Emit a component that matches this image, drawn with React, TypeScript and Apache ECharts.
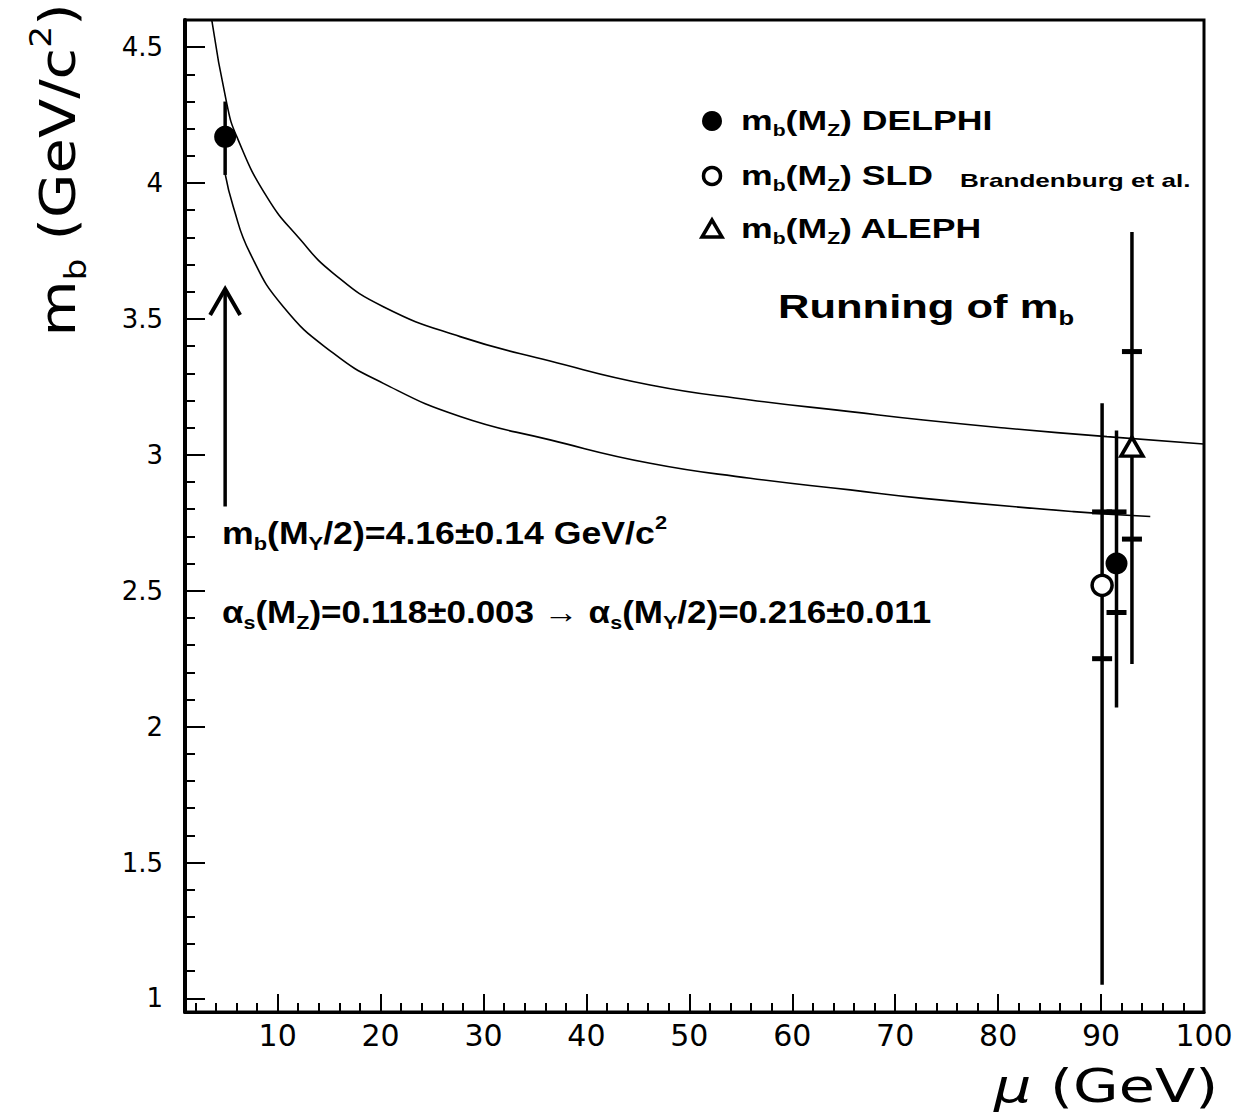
import React, { useEffect, useRef } from 'react';
import * as echarts from 'echarts';

// ---- data ----
const upperX = [3.6, 5.05, 6.03, 8.94, 12.18, 15.41, 20.27, 27.73, 36.47, 46.19, 55.91, 65.63, 72.75, 80.86, 90.57, 99.96];
const upperY = [4.6, 4.294, 4.171, 3.95, 3.793, 3.668, 3.545, 3.435, 3.345, 3.257, 3.202, 3.159, 3.128, 3.098, 3.067, 3.04];
const lowerX = [4.89, 5.69, 7.32, 10.55, 15.41, 20.27, 27.73, 36.47, 46.19, 55.91, 65.63, 72.75, 87.33, 94.78];
const lowerY = [4.036, 3.913, 3.742, 3.545, 3.374, 3.263, 3.141, 3.055, 2.969, 2.914, 2.871, 2.84, 2.791, 2.773];

const delphiPts = [[4.9, 4.17], [91.5, 2.6]];
const sldPts = [[90.1, 2.52]];
const alephPts = [[93.0, 3.03]];
// total error bars: [x, low, high]
const totalErr = [[4.9, 4.03, 4.3], [90.1, 1.05, 3.19], [91.5, 2.07, 3.09], [93.0, 2.23, 3.82]];
// inner (statistical) error ends: [x, y]
const statEnds = [[90.1, 2.25], [90.1, 2.79], [91.5, 2.42], [91.5, 2.79], [93.0, 2.69], [93.0, 3.38]];
// arrow: [x, from, to]
const arrowData = [[4.9, 2.81, 3.61]];

const xTickLabels = [10, 20, 30, 40, 50, 60, 70, 80, 90, 100];
const yTickLabels = [1, 1.5, 2, 2.5, 3, 3.5, 4, 4.5];
const xMinor: number[] = [];
for (let v = 2; v < 100; v += 2) if (v % 10 !== 0) xMinor.push(v);
const yMinor: number[] = [];
for (let k = 10; k <= 46; k++) if (k % 5 !== 0) yMinor.push(k / 10);

const zip = (a: number[], b: number[]) => a.map((v, i) => [v, b[i]]);

function richSet(F: number, family: string, weight: string) {
  const lh = Math.round(F * 1.3);
  const sF = Math.round(F * 0.6);
  return {
    n: { fontSize: F, fontFamily: family, fontWeight: weight, lineHeight: lh, verticalAlign: 'middle', fill: '#000', color: '#000' },
    s: { fontSize: sF, fontFamily: family, fontWeight: weight, lineHeight: sF, verticalAlign: 'bottom', fill: '#000', color: '#000' },
    p: { fontSize: sF, fontFamily: family, fontWeight: weight, lineHeight: sF, verticalAlign: 'top', fill: '#000', color: '#000' },
    i: { fontSize: F, fontFamily: family, fontWeight: weight, fontStyle: 'italic', lineHeight: lh, verticalAlign: 'middle', fill: '#000', color: '#000' },
  };
}

function txt(x: number, y: number, text: string, F: number, o: any = {}) {
  const fam = o.fam || 'Liberation Sans';
  const weight = o.weight || 'bold';
  const align = o.align || 'left';
  return {
    type: 'text',
    x, y,
    scaleX: o.sx || 1,
    rotation: o.rot || 0,
    z: 100,
    style: {
      text,
      rich: richSet(F, fam, weight),
      fill: '#000',
      fontSize: F,
      fontFamily: fam,
      fontWeight: weight,
      align, textAlign: align,
      verticalAlign: 'middle', textVerticalAlign: 'middle',
    },
  };
}

const BOLD = 'Liberation Sans';
const GOTH = 'DejaVu Sans';

export default function App() {
  const ref = useRef<HTMLDivElement>(null);
  useEffect(() => {
    const chart = echarts.init(ref.current!, null, { renderer: 'svg' });
    const option: any = {
      animation: false,
      backgroundColor: '#fff',
      grid: { left: 185, right: 37, top: 20, bottom: 106, show: true, borderColor: '#000', borderWidth: 3, backgroundColor: 'transparent' },
      xAxis: [
        {
          type: 'value', min: 1, max: 100, position: 'bottom',
          axisLine: { show: true, lineStyle: { color: '#000', width: 3 } },
          axisTick: { show: true, inside: true, length: 18, customValues: xTickLabels, lineStyle: { color: '#000', width: 2 } },
          axisLabel: { show: true, customValues: xTickLabels, fontSize: 30, fontFamily: GOTH, color: '#000', margin: 8 },
          splitLine: { show: false },
        },
        {
          type: 'value', min: 1, max: 100, position: 'bottom',
          axisLine: { show: false },
          axisTick: { show: true, inside: true, length: 9, customValues: xMinor, lineStyle: { color: '#000', width: 2 } },
          axisLabel: { show: false },
          splitLine: { show: false },
        },
      ],
      yAxis: [
        {
          type: 'value', min: 0.95, max: 4.6, position: 'left',
          axisLine: { show: true, lineStyle: { color: '#000', width: 4 } },
          axisTick: { show: true, inside: true, length: 20, customValues: yTickLabels, lineStyle: { color: '#000', width: 2 } },
          axisLabel: { show: true, customValues: yTickLabels, fontSize: 26, fontFamily: GOTH, color: '#000', margin: 22, formatter: (v: number) => String(v) },
          splitLine: { show: false },
        },
        {
          type: 'value', min: 0.95, max: 4.6, position: 'left',
          axisLine: { show: false },
          axisTick: { show: true, inside: true, length: 10, customValues: yMinor, lineStyle: { color: '#000', width: 2 } },
          axisLabel: { show: false },
          splitLine: { show: false },
        },
      ],
      series: [
        {
          name: 'upper', type: 'line', data: zip(upperX, upperY), showSymbol: false, symbol: 'none',
          smooth: 0.5, lineStyle: { color: '#000', width: 1.6 }, clip: true,
        },
        {
          name: 'lower', type: 'line', data: zip(lowerX, lowerY), showSymbol: false, symbol: 'none',
          smooth: 0.5, lineStyle: { color: '#000', width: 1.6 }, clip: true,
        },
        {
          name: 'totalErr', type: 'custom', data: totalErr, encode: { x: 0, y: [1, 2] },
          renderItem: (params: any, api: any) => {
            const x = api.value(0);
            const a = api.coord([x, api.value(1)]);
            const b = api.coord([x, api.value(2)]);
            return { type: 'line', shape: { x1: a[0], y1: a[1], x2: b[0], y2: b[1] }, style: { stroke: '#000', lineWidth: 3.5 } };
          },
        },
        {
          name: 'statErr', type: 'custom', data: statEnds, encode: { x: 0, y: 1 },
          renderItem: (params: any, api: any) => {
            const p = api.coord([api.value(0), api.value(1)]);
            return { type: 'line', shape: { x1: p[0] - 10, y1: p[1], x2: p[0] + 10, y2: p[1] }, style: { stroke: '#000', lineWidth: 5 } };
          },
        },
        {
          name: 'arrow', type: 'custom', data: arrowData, encode: { x: 0, y: [1, 2] },
          renderItem: (params: any, api: any) => {
            const x = api.value(0);
            const b = api.coord([x, api.value(1)]);
            const t = api.coord([x, api.value(2)]);
            return {
              type: 'group',
              children: [
                { type: 'line', shape: { x1: b[0], y1: b[1], x2: t[0], y2: t[1] + 1 }, style: { stroke: '#000', lineWidth: 3.5 } },
                { type: 'polyline', shape: { points: [[t[0] - 15, t[1] + 26], [t[0], t[1]], [t[0] + 15, t[1] + 26]] }, style: { stroke: '#000', lineWidth: 4, fill: 'none' } },
              ],
            };
          },
        },
        {
          name: 'DELPHI', type: 'scatter', data: delphiPts, symbol: 'circle', symbolSize: 22,
          itemStyle: { color: '#000', opacity: 1 }, z: 5,
        },
        {
          name: 'SLD', type: 'scatter', data: sldPts, symbol: 'circle', symbolSize: 20,
          itemStyle: { color: '#fff', borderColor: '#000', borderWidth: 3.5, opacity: 1 }, z: 5,
        },
        {
          name: 'ALEPH', type: 'scatter', data: alephPts, symbol: 'triangle', symbolSize: [22, 19],
          itemStyle: { color: '#fff', borderColor: '#000', borderWidth: 3.5, opacity: 1 }, z: 5,
        },
      ],
      graphic: [
        // legend markers
        { type: 'circle', shape: { cx: 712, cy: 121, r: 10 }, style: { fill: '#000' }, z: 100 },
        { type: 'circle', shape: { cx: 712, cy: 176, r: 8.5 }, style: { fill: '#fff', stroke: '#000', lineWidth: 3.5 }, z: 100 },
        { type: 'polygon', shape: { points: [[712, 220], [702, 237], [722, 237]] }, style: { fill: '#fff', stroke: '#000', lineWidth: 3.5 }, z: 100 },
        // legend texts
        txt(741, 121, '{n|m}{s|b}{n|(M}{s|Z}{n|) DELPHI}', 27, { fam: BOLD, sx: 1.32 }),
        txt(741, 176, '{n|m}{s|b}{n|(M}{s|Z}{n|) SLD}', 27, { fam: BOLD, sx: 1.32 }),
        txt(960, 181, '{n|Brandenburg et al.}', 18, { fam: BOLD, sx: 1.45 }),
        txt(741, 229, '{n|m}{s|b}{n|(M}{s|Z}{n|) ALEPH}', 27, { fam: BOLD, sx: 1.32 }),
        txt(778, 306, '{n|Running of m}{s|b}', 34, { fam: BOLD, sx: 1.28 }),
        // annotations
        txt(222, 533, '{n|m}{s|b}{n|(M}{s|Υ}{n|/2)=4.16±0.14 GeV/c}{p|2}', 31, { fam: BOLD, sx: 1.15 }),
        txt(222, 612, '{n|α}{s|s}{n|(M}{s|Z}{n|)=0.118±0.003 → α}{s|s}{n|(M}{s|Υ}{n|/2)=0.216±0.011}', 31, { fam: BOLD, sx: 1.13 }),
        // axis titles
        txt(58, 170, '{n|m}{s|b}{n| (GeV/c}{p|2}{n|)}', 50, { fam: GOTH, weight: 'normal', align: 'center', rot: Math.PI / 2, sx: 1.15 }),
        txt(1106, 1086, '{i|μ}{n| (GeV)}', 46, { fam: GOTH, weight: 'normal', align: 'center', sx: 1.28 }),
      ],
    };
    chart.setOption(option);
    return () => chart.dispose();
  }, []);
  return <div ref={ref} style={{ position: 'absolute', left: 0, top: 0, width: 1241, height: 1118, background: '#fff' }} />;
}
